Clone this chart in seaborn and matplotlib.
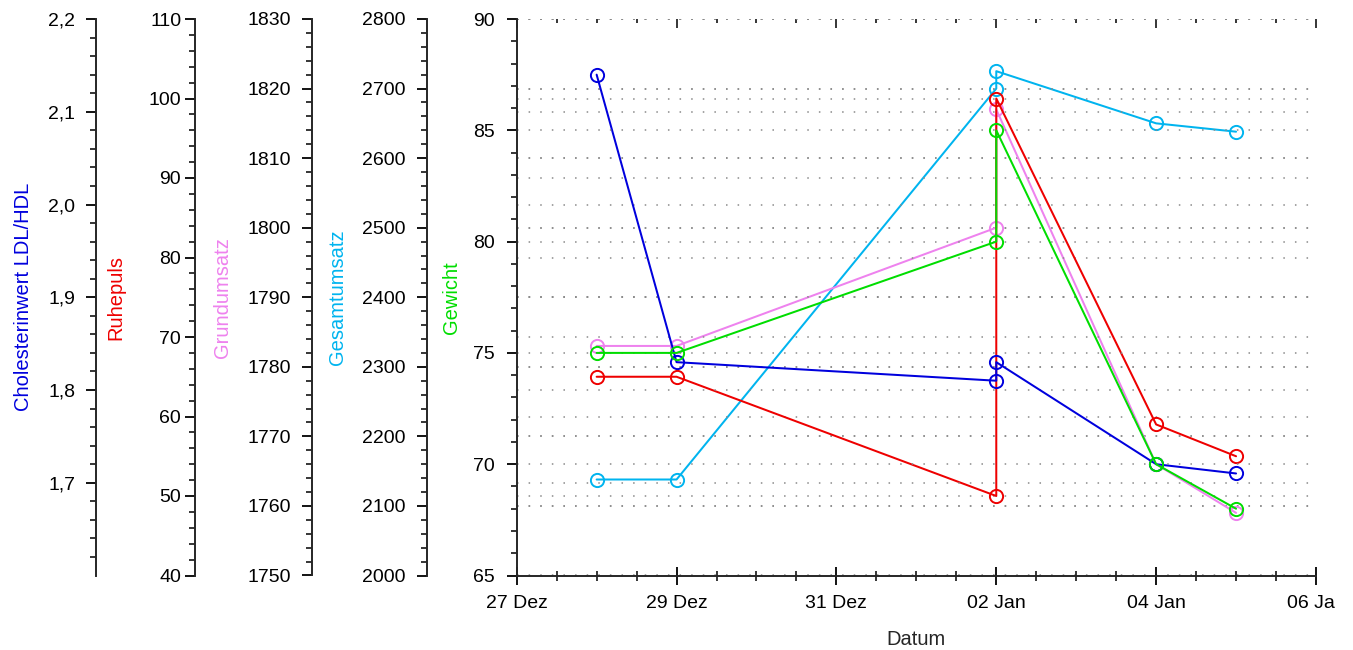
import numpy as np
import pandas as pd
import matplotlib
matplotlib.use("Agg")
import matplotlib.pyplot as plt
import matplotlib.dates as mdates
from matplotlib.ticker import FixedLocator, MultipleLocator, FuncFormatter
from matplotlib.transforms import Bbox, TransformedBbox
import seaborn as sns

# ---------------- data ----------------
dates = ["2023-12-28", "2023-12-29", "2024-01-02", "2024-01-02", "2024-01-04", "2024-01-05"]
gewicht = [75.0, 75.0, 80.0, 85.0, 70.0, 68.0]
gesamtumsatz = [2138, 2138, 2700, 2725, 2650, 2638]
grundumsatz = [1783, 1783, 1800, 1817, 1766, 1759]
ruhepuls = [65, 65, 50, 100, 59, 55]
cholesterin = [2.14, 1.83, 1.81, 1.83, 1.72, 1.71]

x_start, x_end = "2023-12-27", "2024-01-06"
month_names = ["Jan", "Feb", "Mär", "Apr", "Mai", "Jun", "Jul", "Aug", "Sep", "Okt", "Nov", "Dez"]
x_label = "Datum"

# ---------------- style ----------------
sns.set_style("ticks")
plt.rcParams["font.family"] = ["Liberation Sans", "DejaVu Sans"]
plt.rcParams["axes.linewidth"] = 1.4
plt.rcParams["text.color"] = "black"

TICK_FS = 14
LABEL_FS = 14.5
GRID_KW = dict(linestyle=(0, (1, 6.6)), linewidth=1.1, color="#8a8a8a")

W, H = 1353, 650
L, R, T, B = 516.7, 1316.0, 19.0, 575.5

fig = plt.figure(figsize=(W / 100, H / 100), dpi=100)
ax = fig.add_axes([L / W, 1 - B / H, (R - L) / W, (B - T) / H])

xs = pd.to_datetime(pd.Series(dates))


def draw(axis, values, color):
    sns.lineplot(x=xs, y=values, ax=axis, color=color, estimator=None, sort=False,
                 marker="o", markersize=9.5, markerfacecolor="none",
                 markeredgecolor=color, markeredgewidth=1.4, linewidth=1.45,
                 legend=False)


def style_y(axis, lo, hi, major, minor, fmt, pad=8.5, major_ticks=None, minor_ticks=None):
    axis.set_ylim(lo, hi)
    if major_ticks is not None:
        axis.yaxis.set_major_locator(FixedLocator(major_ticks))
    else:
        axis.yaxis.set_major_locator(MultipleLocator(major))
    if minor_ticks is not None:
        axis.yaxis.set_minor_locator(FixedLocator(minor_ticks))
    else:
        axis.yaxis.set_minor_locator(MultipleLocator(minor))
    axis.yaxis.set_major_formatter(FuncFormatter(fmt))
    axis.tick_params(axis="y", which="major", direction="out", length=7, width=1.3,
                     pad=pad, labelsize=TICK_FS, colors="black")
    axis.tick_params(axis="y", which="minor", direction="out", length=4.2, width=1.3)
    axis.grid(True, axis="y", which="major", **GRID_KW)
    axis.grid(False, axis="x")


int_fmt = lambda v, p: f"{v:.0f}"
comma_fmt = lambda v, p: f"{v:.1f}".replace(".", ",")

# (values, label, color, lo, hi, major, minor, fmt, outward offset pt, label x, pad)
twins = [
    (gesamtumsatz, "Gesamtumsatz", "#00b4ef", 2000, 2800, 100, 20, int_fmt, 64.8, -0.212, 8.5),
    (grundumsatz, "Grundumsatz", "#ee82ee", 1750, 1830, 10, 2, int_fmt, 147.2, -0.356, 8.5),
    (ruhepuls, "Ruhepuls", "#ee0000", 40, 110, 10, 2, int_fmt, 231.6, -0.489, 3.0),
    (cholesterin, "Cholesterinwert LDL/HDL", "#0000dd", 1.6, 2.2, 0.1, 0.02, comma_fmt, 302.9, -0.605, 8.0),
]

for vals, lab, col, lo, hi, maj, mnr, fmt, off, lx, pad in twins:
    tw = ax.twinx()
    draw(tw, vals, col)
    tw.yaxis.set_ticks_position("left")
    tw.yaxis.set_label_position("left")
    for s in ["top", "right", "bottom"]:
        tw.spines[s].set_visible(False)
    tw.spines["left"].set_visible(True)
    tw.spines["left"].set_position(("outward", off))
    tw.spines["left"].set_linewidth(1.4)
    if lab.startswith("Chol"):
        style_y(tw, lo, hi, maj, mnr, fmt, pad=pad,
                major_ticks=np.round(np.arange(1.7, 2.21, 0.1), 2),
                minor_ticks=np.round(np.arange(1.62, 2.2, 0.02), 2))
    else:
        style_y(tw, lo, hi, maj, mnr, fmt, pad=pad)
    tw.set_ylabel(lab, color=col, fontsize=LABEL_FS)
    tw.yaxis.set_label_coords(lx, 0.5)
    tw.set_xlabel("")

# main axis (Gewicht) on top
draw(ax, gewicht, "#00dd00")
ax.set_zorder(10)
ax.patch.set_visible(False)
style_y(ax, 65, 90, 5, 1, int_fmt, pad=9.0)
ax.set_ylabel("Gewicht", color="#00dd00", fontsize=LABEL_FS)
ax.yaxis.set_label_coords(-0.0697, 0.5)
ax.spines["top"].set_visible(False)
ax.spines["right"].set_visible(False)

# x axis
ax.set_xlim(pd.Timestamp(x_start), pd.Timestamp(x_end))
major_x = mdates.date2num(pd.date_range(x_start, x_end, freq="2D"))
minor_x = mdates.date2num(pd.date_range(x_start, x_end, freq="12h"))
ax.xaxis.set_major_locator(FixedLocator(major_x))
ax.xaxis.set_minor_locator(FixedLocator(minor_x))


def date_fmt(v, p):
    d = mdates.num2date(v)
    return f"{d.day:02d} {month_names[d.month - 1]}"


ax.xaxis.set_major_formatter(FuncFormatter(date_fmt))
ax.tick_params(axis="x", which="major", direction="inout", length=12.7, width=1.3,
               pad=8.0, labelsize=TICK_FS, colors="black")
ax.tick_params(axis="x", which="minor", direction="inout", length=7.2, width=1.3)
ax.set_xlabel(x_label, fontsize=LABEL_FS)
ax.xaxis.set_label_coords(0.5, -0.098)

sec = ax.secondary_xaxis("top")
sec.xaxis.set_major_locator(FixedLocator(major_x))
sec.xaxis.set_minor_locator(FixedLocator(minor_x))
sec.tick_params(which="both", direction="in", labeltop=False, width=1.3)
sec.tick_params(which="major", length=6.5)
sec.tick_params(which="minor", length=3)
sec.spines["top"].set_visible(False)

# clip the last date label at the canvas edge as in the reference
fig.canvas.draw()
clip = TransformedBbox(Bbox([[0, 0], [1336 / W, 1]]), fig.transFigure)
for t in ax.get_xticklabels():
    t.set_clip_box(clip)
    t.set_clip_on(True)

fig.savefig("out.png", dpi=100)
